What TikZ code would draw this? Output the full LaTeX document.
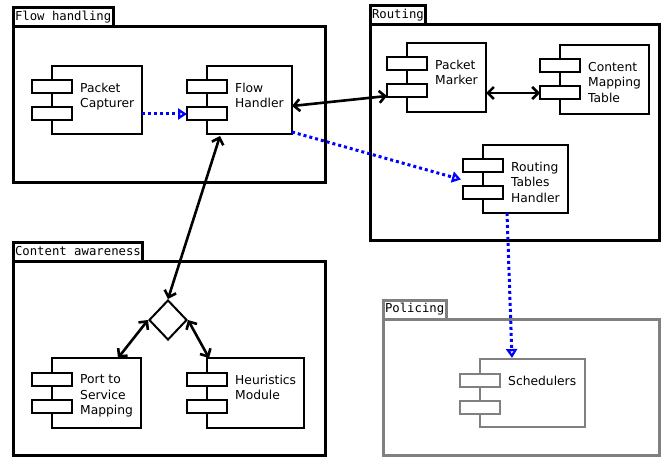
\documentclass[tikz,border=0pt]{standalone}
\usepackage{fontspec}
\setmainfont{DejaVu Sans}
\setmonofont{DejaVu Sans Mono}
\usetikzlibrary{shapes.geometric,arrows.meta,calc}
\newcommand\pkgbox[7]{%
  \node[pkg,#7,minimum width={#4-#2},minimum height={#5-#3}] (#1) at ({(#2+#4)/2},{(#3+#5)/2}) {};
  \node[tab,#7] (#1-tab) at (#2,#3) {#6};
}
\newcommand\comp[7]{%
  \node[body,#7,minimum width={#4-#2},minimum height={#5-#3}] (#1) at ({(#2+#4)/2},{(#3+#5)/2}) {};
  \node[port,#7] (#1-p1) at (#2,#3+21) {};
  \node[port,#7] (#1-p2) at (#2,#3+48) {};
  \node[lbl] (#1-t) at (#2+28,#3+16.8) {#6};
}
\begin{document}
\begin{tikzpicture}[x=1pt,y=-1pt,
  pkg/.style={draw, line width=3pt, inner sep=0pt, outer sep=0pt},
  tab/.style={draw, line width=3pt, anchor=south west, outer sep=0pt, inner xsep=2pt, inner ysep=0pt, minimum height=19pt, font=\ttfamily\fontsize{12.3}{14}\selectfont},
  body/.style={draw, line width=2pt, fill=white, inner sep=0pt, outer sep=0pt},
  port/.style={draw, line width=2pt, fill=white, inner sep=0pt, outer sep=0pt, minimum width=40pt, minimum height=13pt},
  lbl/.style={align=left, anchor=north west, inner sep=0pt, font=\fontsize{12.3}{15.5}\selectfont},
  conn/.style={line width=2.6pt, {Straight Barb[length=6pt,width=12pt]}-{Straight Barb[length=6pt,width=12pt]}},
  flow/.style={blue, line width=3pt, dash pattern=on 3pt off 3pt, -{Triangle[open,length=9pt,width=11pt]}},
  grayed/.style={draw=gray},
  normal/.style={},
]
\useasboundingbox (0,0) rectangle (661,457);

\pkgbox{fhpkg}{13}{27}{325}{183}{Flow handling}{normal}
\pkgbox{rout}{370}{25}{659.5}{240}{Routing}{normal}
\pkgbox{ca}{13}{261}{325}{455}{Content awareness}{normal}
\pkgbox{pol}{383}{319}{659}{455.5}{Policing}{grayed}

\comp{cap}{52}{66}{142}{134}{Packet\\Capturer}{normal}
\comp{fh}{207}{66}{292}{134}{Flow\\Handler}{normal}
\comp{pm}{407}{43}{486}{112}{Packet\\Marker}{normal}
\comp{cmt}{560}{45}{649}{114}{Content\\Mapping\\Table}{normal}
\comp{rth}{483}{145}{568}{213}{Routing\\Tables\\Handler}{normal}
\comp{sched}{480}{359}{585}{427}{Schedulers}{grayed}
\comp{port}{52}{358}{141}{428}{Port to\\Service\\Mapping}{normal}
\comp{heur}{207}{358}{304}{428}{Heuristics\\Module}{normal}

\node[draw, diamond, line width=2pt, minimum width=38pt, minimum height=40pt, inner sep=0pt] (dia) at (168,320) {};

\draw[flow] (cap.east |- fh-p2.west) -- (fh-p2.west);
\draw[conn] ([yshift=-6pt]fh.east) -- ([yshift=-5pt]pm-p2.west);
\draw[conn] (pm.east |- cmt-p2.west) -- (cmt-p2.west);
\draw[flow] ([yshift=2pt]fh.south east) -- ($(rth-p1.south west)!0.5!(rth-p2.north west)+(-2,0)$);
\draw[flow] ($(rth.south west)+(24,0)$) -- ($(sched.north west)+(32,-1)$);
\draw[conn] ($(fh.south west)+(13,2)$) -- (dia.north);
\draw[conn] (dia.west) -- ($(port.north west)+(66,0)$);
\draw[conn] (dia.east) -- ($(heur.north west)+(2,0)$);
\end{tikzpicture}
\end{document}
